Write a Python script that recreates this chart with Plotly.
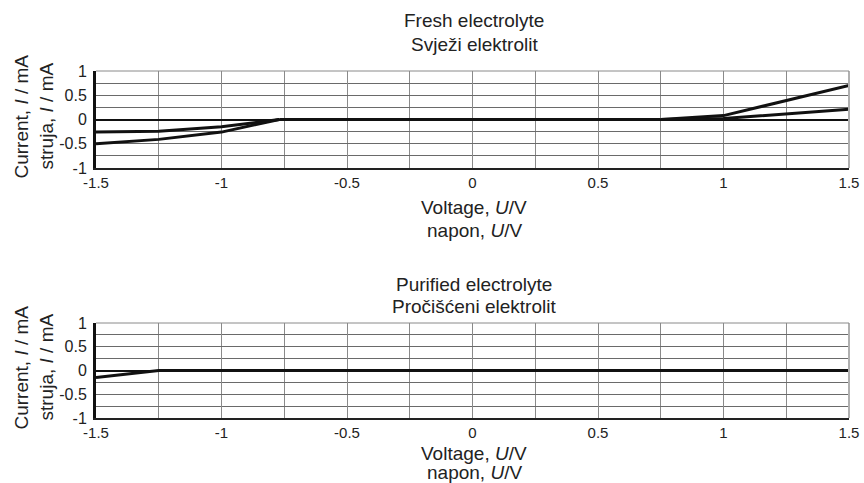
import plotly.graph_objects as go

# Fresh electrolyte: current–voltage sweep (two branches per side)
fresh_v_neg_low = [-1.5, -1.25, -1.0, -0.77]
fresh_i_neg_low = [-0.50, -0.41, -0.26, 0.0]
fresh_v_neg_up = [-1.5, -1.25, -1.0, -0.77]
fresh_i_neg_up = [-0.26, -0.24, -0.15, 0.0]
fresh_v_mid = [-0.77, 0.75]
fresh_i_mid = [0.0, 0.0]
fresh_v_pos_up = [0.75, 1.0, 1.5]
fresh_i_pos_up = [0.0, 0.08, 0.70]
fresh_v_pos_low = [0.75, 1.0, 1.5]
fresh_i_pos_low = [0.0, 0.02, 0.21]

# Purified electrolyte
pur_v = [-1.5, -1.25, 1.5]
pur_i = [-0.15, 0.0, 0.0]

x_ticks = [-1.5, -1, -0.5, 0, 0.5, 1, 1.5]
x_tick_text = ["-1.5", "-1", "-0.5", "0", "0.5", "1", "1.5"]
y_ticks = [-1, -0.5, 0, 0.5, 1]
y_tick_text = ["-1", "-0.5", "0", "0.5", "1"]

FONT = "Liberation Sans, Arial, sans-serif"
W, H = 864, 483
x0, x1 = 96, 849
panels = [(71, 168), (323, 418)]

fig = go.Figure()

line = dict(color="#111111", width=3)
top_series = [
    (fresh_v_neg_low, fresh_i_neg_low),
    (fresh_v_neg_up, fresh_i_neg_up),
    (fresh_v_mid, fresh_i_mid),
    (fresh_v_pos_up, fresh_i_pos_up),
    (fresh_v_pos_low, fresh_i_pos_low),
]
for vx, iy in top_series:
    fig.add_trace(go.Scatter(x=vx, y=iy, mode="lines", line=line,
                             xaxis="x", yaxis="y", showlegend=False))
fig.add_trace(go.Scatter(x=pur_v, y=pur_i, mode="lines", line=line,
                         xaxis="x2", yaxis="y2", showlegend=False))

def xax(anchor):
    return dict(domain=[x0 / W, x1 / W], anchor=anchor, range=[-1.5, 1.5],
                automargin=False,
                tickvals=x_ticks, ticktext=x_tick_text, ticks="",
                showgrid=True, gridcolor="#8a8a8a", gridwidth=1,
                minor=dict(dtick=0.25, tick0=-1.5, showgrid=True,
                           gridcolor="#8a8a8a", gridwidth=1),
                zeroline=False, showline=True, linecolor="#222222", linewidth=2,
                mirror=False, tickfont=dict(family=FONT, size=15, color="#222222"),
                ticklabelstandoff=0, fixedrange=True)

def yax(anchor, top, bot):
    return dict(domain=[1 - bot / H, 1 - top / H], anchor=anchor, range=[-1, 1],
                automargin=False,
                tickvals=y_ticks, ticktext=y_tick_text, ticks="",
                showgrid=True, gridcolor="#6a6a6a", gridwidth=1,
                minor=dict(dtick=0.25, tick0=-1, showgrid=True,
                           gridcolor="#6a6a6a", gridwidth=1),
                zeroline=True, zerolinecolor="#111111", zerolinewidth=2,
                showline=True, linecolor="#111111", linewidth=3,
                tickfont=dict(family=FONT, size=16, color="#222222"),
                ticklabelstandoff=3, fixedrange=True)

fig.update_layout(
    width=W, height=H, margin=dict(l=0, r=0, t=0, b=0),
    paper_bgcolor="white", plot_bgcolor="white",
    xaxis=xax("y"), yaxis=yax("x", *panels[0]),
    xaxis2=xax("y2"), yaxis2=yax("x2", *panels[1]),
)

# Right and top frame edges in light gray
for top, bot in panels:
    fig.add_shape(type="line", xref="paper", yref="paper",
                  x0=x1 / W, x1=x1 / W, y0=1 - bot / H, y1=1 - top / H,
                  line=dict(color="#b0b0b0", width=2))
    fig.add_shape(type="line", xref="paper", yref="paper",
                  x0=x0 / W, x1=x1 / W, y0=1 - top / H, y1=1 - top / H,
                  line=dict(color="#8a8a8a", width=1))

def text(s, x, y, size=19, angle=0):
    fig.add_annotation(text=s, x=x / W, y=1 - y / H, xref="paper", yref="paper",
                       showarrow=False, textangle=angle,
                       font=dict(family=FONT, size=size, color="#222222"),
                       xanchor="center", yanchor="middle")

cx = (x0 + x1) / 2 + 2
text("Fresh electrolyte", cx, 20)
text("Svježi elektrolit", cx, 44)
text("Voltage, <i>U</i>/V", cx, 207)
text("napon, <i>U</i>/V", cx, 230)
text("Purified electrolyte", cx, 284)
text("Pročišćeni elektrolit", cx, 306)
text("Voltage, <i>U</i>/V", cx, 453)
text("napon, <i>U</i>/V", cx, 472)

for top, bot in panels:
    cy = (top + bot) / 2 - 3
    text("Current, <i>I</i> / mA", 21, cy, angle=-90)
    text("struja, <i>I</i> / mA", 46, cy, angle=-90)

fig.write_html("out.html")
